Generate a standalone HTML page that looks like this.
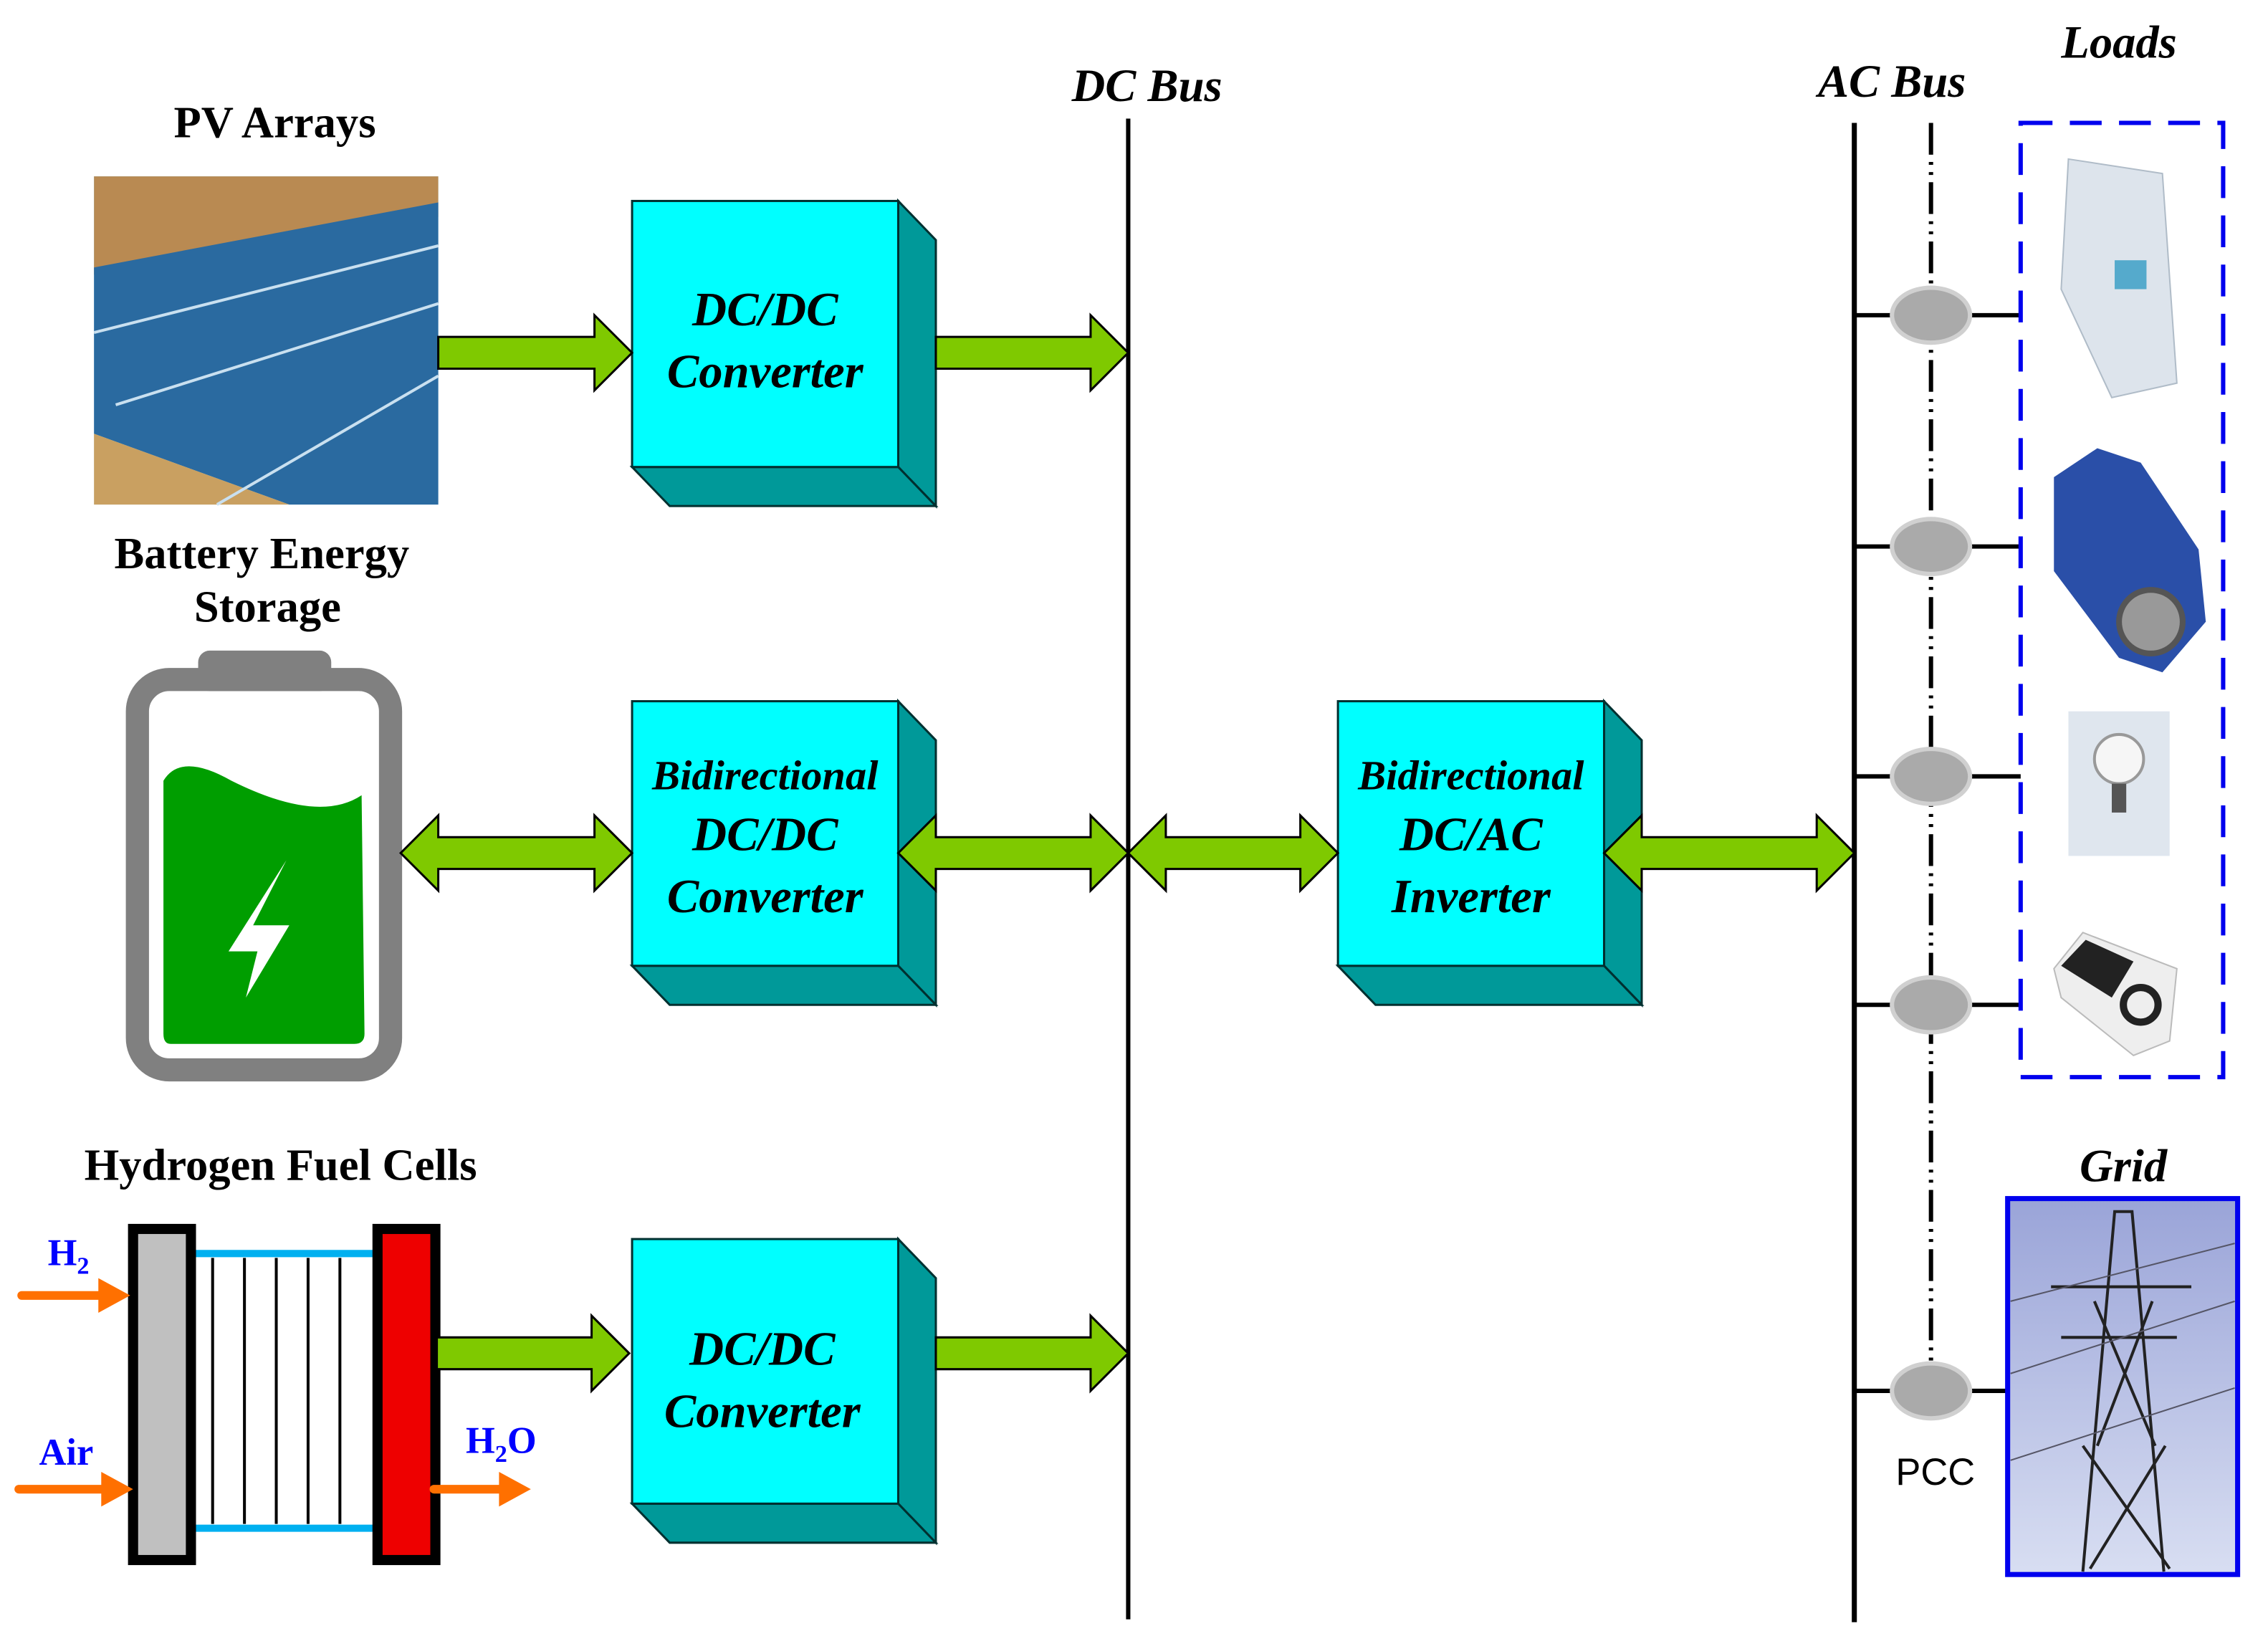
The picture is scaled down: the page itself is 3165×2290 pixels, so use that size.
<!DOCTYPE html>
<html><head><meta charset="utf-8"><style>html,body{margin:0;padding:0;background:#fff}svg{display:block}</style></head>
<body>
<svg width="3165" height="2290" viewBox="0 0 1568 1135" preserveAspectRatio="none" xmlns="http://www.w3.org/2000/svg">
<defs>
<linearGradient id="sky" x1="0" y1="0" x2="0" y2="1"><stop offset="0" stop-color="#5fc3ea"/><stop offset="1" stop-color="#bfe3f3"/></linearGradient>
<linearGradient id="grid" x1="0" y1="0" x2="0" y2="1"><stop offset="0" stop-color="#9aa4d8"/><stop offset="1" stop-color="#d8def2"/></linearGradient>
</defs>
<g font-family="Liberation Serif, serif" font-weight="bold">
<text x="190" y="95" font-size="31" text-anchor="middle">PV Arrays</text>
<text x="181" y="393" font-size="31" text-anchor="middle">Battery Energy</text>
<text x="185" y="430" font-size="31" text-anchor="middle">Storage</text>
<text x="194" y="816" font-size="31" text-anchor="middle">Hydrogen Fuel Cells</text>
<g font-style="italic" font-size="32">
<text x="793" y="70" text-anchor="middle">DC Bus</text>
<text x="1308" y="67" text-anchor="middle">AC Bus</text>
<text x="1465" y="40" text-anchor="middle">Loads</text>
<text x="1468" y="817" text-anchor="middle">Grid</text>
</g>
</g>
<!-- PV image -->
<rect x="65" y="122" width="238" height="227" fill="url(#sky)"/>
<polygon points="65,122 303,122 303,150 65,190" fill="#b98a52"/>
<polygon points="65,185 303,140 303,349 200,349 65,300" fill="#2a6aa0"/>
<polygon points="65,300 200,349 65,349" fill="#c9a061"/>
<g stroke="#c9e0f0" stroke-width="2"><line x1="65" y1="230" x2="303" y2="170"/><line x1="80" y1="280" x2="303" y2="210"/><line x1="150" y1="349" x2="303" y2="260"/></g>
<!-- battery -->
<rect x="137" y="450" width="92" height="28" rx="8" fill="#808080"/>
<rect x="95" y="470" width="175" height="270" rx="22" fill="none" stroke="#808080" stroke-width="16"/>
<path d="M113,540 Q125,520 160,540 Q220,570 250,550 L252,715 Q252,722 245,722 L118,722 Q113,722 113,715 Z" fill="#009e00"/>
<polygon points="198,595 175,640 200,640 170,690 178,658 158,658" fill="#fff"/>
<!-- fuel cell -->
<line x1="133" y1="867" x2="260" y2="867" stroke="#00b0f0" stroke-width="5"/>
<line x1="133" y1="1057" x2="260" y2="1057" stroke="#00b0f0" stroke-width="5"/>
<g stroke="#000" stroke-width="2"><line x1="147" y1="870" x2="147" y2="1054"/><line x1="169" y1="870" x2="169" y2="1054"/><line x1="191" y1="870" x2="191" y2="1054"/><line x1="213" y1="870" x2="213" y2="1054"/><line x1="235" y1="870" x2="235" y2="1054"/></g>
<rect x="92" y="850" width="40" height="229" fill="#c0c0c0" stroke="#000" stroke-width="7"/>
<rect x="261" y="850" width="40" height="229" fill="#ee0000" stroke="#000" stroke-width="7"/>
<g stroke="#ff7000" stroke-width="6" stroke-linecap="round"><line x1="15" y1="896" x2="70" y2="896"/><line x1="13" y1="1030" x2="70" y2="1030"/><line x1="300" y1="1030" x2="345" y2="1030"/></g>
<g fill="#ff7000"><polygon points="90,896 68,884 68,908"/><polygon points="92,1030 70,1018 70,1042"/><polygon points="367,1030 345,1018 345,1042"/></g>
<g font-family="Liberation Serif, serif" font-weight="bold" fill="#0000ff" font-size="26">
<text x="33" y="875">H<tspan font-size="17" dy="6">2</tspan></text>
<text x="27" y="1013">Air</text>
<text x="322" y="1005">H<tspan font-size="17" dy="6">2</tspan><tspan dy="-6">O</tspan></text>
</g>
<!-- boxes -->
<g stroke="#003030" stroke-width="1.5">
<polygon points="621,139 647,166 647,350 621,323" fill="#009999"/><polygon points="437,323 621,323 647,350 463,350" fill="#009999"/><rect x="437" y="139" width="184" height="184" fill="#00ffff"/>
<polygon points="621,485 647,512 647,695 621,668" fill="#009999"/><polygon points="437,668 621,668 647,695 463,695" fill="#009999"/><rect x="437" y="485" width="184" height="183" fill="#00ffff"/>
<polygon points="621,857 647,884 647,1067 621,1040" fill="#009999"/><polygon points="437,1040 621,1040 647,1067 463,1067" fill="#009999"/><rect x="437" y="857" width="184" height="183" fill="#00ffff"/>
<polygon points="1109,485 1135,512 1135,695 1109,668" fill="#009999"/><polygon points="925,668 1109,668 1135,695 951,695" fill="#009999"/><rect x="925" y="485" width="184" height="183" fill="#00ffff"/>
</g>
<g font-family="Liberation Serif, serif" font-weight="bold" font-style="italic" text-anchor="middle">
<text x="529" y="225" font-size="33">DC/DC</text><text x="529" y="268" font-size="33">Converter</text>
<text x="529" y="546" font-size="29">Bidirectional</text><text x="529" y="588" font-size="33">DC/DC</text><text x="529" y="631" font-size="33">Converter</text>
<text x="527" y="944" font-size="33">DC/DC</text><text x="527" y="987" font-size="33">Converter</text>
<text x="1017" y="546" font-size="29">Bidirectional</text><text x="1017" y="588" font-size="33">DC/AC</text><text x="1017" y="631" font-size="33">Inverter</text>
</g>
<!-- buses -->
<line x1="780" y1="82" x2="780" y2="1120" stroke="#000" stroke-width="3"/>
<line x1="1282" y1="85" x2="1282" y2="1122" stroke="#000" stroke-width="3.5"/>
<line x1="1335" y1="85" x2="1335" y2="945" stroke="#000" stroke-width="3" stroke-dasharray="22,5,2,5,2,5"/>
<g stroke="#000" stroke-width="3"><line x1="1282" y1="218" x2="1397" y2="218"/><line x1="1282" y1="378" x2="1397" y2="378"/><line x1="1282" y1="537" x2="1397" y2="537"/><line x1="1282" y1="695" x2="1397" y2="695"/><line x1="1282" y1="962" x2="1388" y2="962"/></g>
<g fill="#aaaaaa" stroke="#d0d0d0" stroke-width="3"><ellipse cx="1335" cy="218" rx="27" ry="19"/><ellipse cx="1335" cy="378" rx="27" ry="19"/><ellipse cx="1335" cy="537" rx="27" ry="19"/><ellipse cx="1335" cy="695" rx="27" ry="19"/><ellipse cx="1335" cy="962" rx="27" ry="19"/></g>
<text x="1338" y="1027" font-family="Liberation Sans, sans-serif" font-size="26" text-anchor="middle">PCC</text>
<rect x="1397" y="85" width="140" height="660" fill="none" stroke="#0000ee" stroke-width="3" stroke-dasharray="22,12"/>
<!-- loads -->
<polygon points="1430,110 1495,120 1505,265 1460,275 1425,200" fill="#dde4ec" stroke="#b0bcc8"/>
<rect x="1462" y="180" width="22" height="20" fill="#5ac"/>
<path d="M1420,330 L1450,310 L1480,320 L1520,380 L1525,430 L1495,465 L1465,455 L1420,395 Z" fill="#2a4fa8"/>
<circle cx="1487" cy="430" r="22" fill="#999" stroke="#555" stroke-width="4"/>
<rect x="1430" y="492" width="70" height="100" fill="#dfe6ee"/>
<circle cx="1465" cy="525" r="17" fill="#f6f6f6" stroke="#999" stroke-width="2"/><rect x="1460" y="542" width="10" height="20" fill="#555"/>
<polygon points="1420,670 1440,645 1505,670 1500,720 1475,730 1425,690" fill="#eee" stroke="#bbb"/>
<polygon points="1425,668 1442,650 1475,665 1460,690" fill="#222"/><circle cx="1480" cy="695" r="12" fill="none" stroke="#222" stroke-width="5"/>
<!-- grid -->
<rect x="1388" y="829" width="159" height="260" fill="url(#grid)" stroke="#0000ee" stroke-width="3.5"/>
<g stroke="#222" stroke-width="2" fill="none">
<path d="M1440,1087 L1462,838 L1474,838 L1496,1087"/><path d="M1418,890 L1515,890 M1425,925 L1505,925 M1448,900 L1490,1000 M1488,900 L1450,1000 M1440,1000 L1500,1085 M1497,1000 L1445,1085"/>
<path d="M1390,900 L1545,860 M1390,950 L1545,900 M1390,1010 L1545,960" stroke="#556" stroke-width="1"/>
</g>
<!-- arrows -->
<g fill="#7fc900" stroke="#000" stroke-width="1.5">
<polygon points="303,233 411,233 411,218 437,244 411,270 411,255 303,255"/>
<polygon points="647,233 754,233 754,218 780,244 754,270 754,255 647,255"/>
<polygon points="302,925 409,925 409,910 435,936 409,962 409,947 302,947"/>
<polygon points="647,925 754,925 754,910 780,936 754,962 754,947 647,947"/>
<polygon points="277,590 303,564 303,579 411,579 411,564 437,590 411,616 411,601 303,601 303,616"/>
<polygon points="621,590 647,564 647,579 754,579 754,564 780,590 754,616 754,601 647,601 647,616"/>
<polygon points="780,590 806,564 806,579 899,579 899,564 925,590 899,616 899,601 806,601 806,616"/>
<polygon points="1109,590 1135,564 1135,579 1256,579 1256,564 1282,590 1256,616 1256,601 1135,601 1135,616"/>
</g>
</svg>
</body></html>
